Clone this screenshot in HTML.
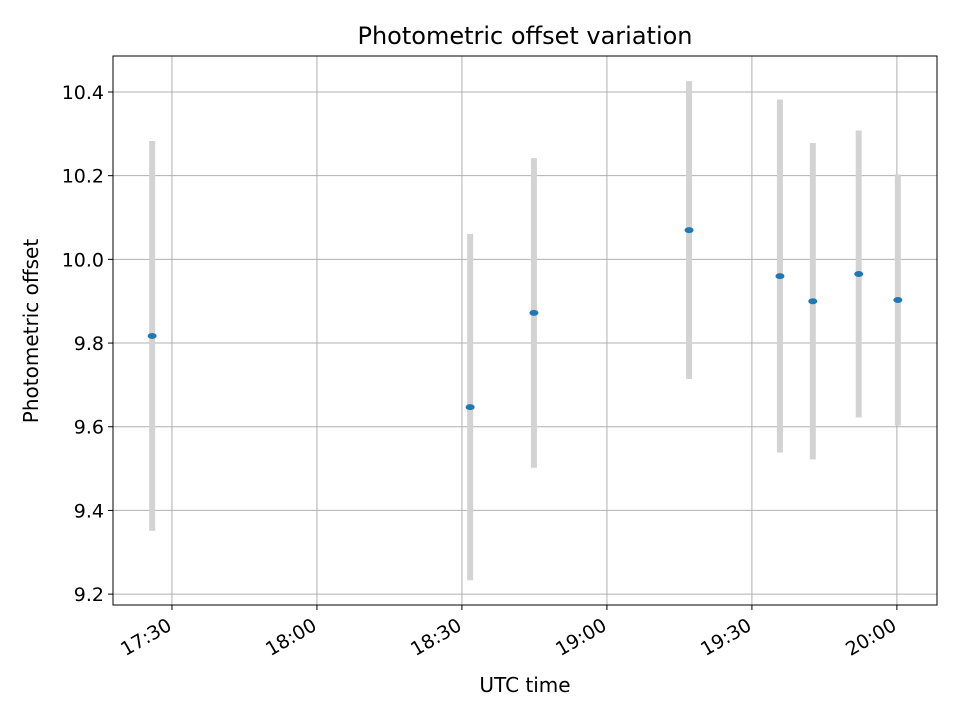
<!DOCTYPE html>
<html><head><meta charset="utf-8"><style>
body{margin:0;background:#fff;}
svg{display:block;font-family:"DejaVu Sans","Liberation Sans",sans-serif;}
</style></head><body>
<svg id="chart" width="960" height="720" viewBox="0 0 960 720">
<rect width="960" height="720" fill="#fff"/>
<g id="grid"></g>
<g id="bars"></g>
<g id="pts"></g>
<rect x="113" y="56" width="824" height="549" fill="none" stroke="#000" stroke-width="1"/>
<g id="ticks"></g>
<text x="525" y="44" text-anchor="middle" font-size="24">Photometric offset variation</text>
<text x="525" y="692" text-anchor="middle" font-size="20">UTC time</text>
<text transform="translate(38,331) rotate(-90)" text-anchor="middle" font-size="20">Photometric offset</text>
</svg>
<script>
// data (time in minutes after midnight UTC)
const times = [1045.9, 1111.7, 1124.9, 1157.0, 1175.8, 1182.6, 1192.1, 1200.2];
const offsets = [9.817, 9.647, 9.872, 10.07, 9.96, 9.90, 9.965, 9.903];
const errors = [0.466, 0.414, 0.37, 0.356, 0.422, 0.378, 0.343, 0.30];
const xTickLabels = ["17:30","18:00","18:30","19:00","19:30","20:00"];
const xTickValues = [1050, 1080, 1110, 1140, 1170, 1200];
const yTickValues = [9.2, 9.4, 9.6, 9.8, 10.0, 10.2, 10.4];

const L=113,R=937,T=56,B=605;
const xMin=1037.8,xMax=1208.3,yMin=9.174,yMax=10.486;
const X=v=>L+(v-xMin)/(xMax-xMin)*(R-L);
const Y=v=>B-(v-yMin)/(yMax-yMin)*(B-T);
const NS="http://www.w3.org/2000/svg";
function mk(tag,attrs,parent){const e=document.createElementNS(NS,tag);for(const k in attrs)e.setAttribute(k,attrs[k]);parent.appendChild(e);return e;}
const grid=document.getElementById('grid'),ticks=document.getElementById('ticks'),bars=document.getElementById('bars'),pts=document.getElementById('pts');

xTickValues.forEach((v,i)=>{
  const x=X(v);
  const g=mk('line',{x1:x,x2:x,y1:T,y2:B,stroke:'#b0b0b0','stroke-width':1},grid);
  
  
  const t=mk('line',{x1:x,x2:x,y1:B,y2:B+5,stroke:'#000'},ticks);
  
  
  const lb=mk('text',{'text-anchor':'end','font-size':19,transform:`translate(${x+1},${B+24}) rotate(-30)`},ticks);
  lb.textContent=xTickLabels[i];
  
  
});
yTickValues.forEach(v=>{
  const y=Y(v);
  const g=mk('line',{x1:L,x2:R,y1:y,y2:y,stroke:'#b0b0b0','stroke-width':1},grid);
  
  
  const t=mk('line',{x1:L-5,x2:L,y1:y,y2:y,stroke:'#000'},ticks);
  
  
  const lb=mk('text',{x:L-9,y:y+7,'text-anchor':'end','font-size':19},ticks);
  lb.textContent=v.toFixed(1);
  
  
});
times.forEach((t,i)=>{
  const x=X(t);
  const b=mk('line',{x1:x,x2:x,y1:Y(offsets[i]+errors[i]),y2:Y(offsets[i]-errors[i]),stroke:'#d3d3d3','stroke-width':6},bars);
  
  
  const p=mk('ellipse',{cx:x,cy:Y(offsets[i]),rx:4.5,ry:3,fill:'#1f77b4'},pts);
  
  
});
</script>
</body></html>
